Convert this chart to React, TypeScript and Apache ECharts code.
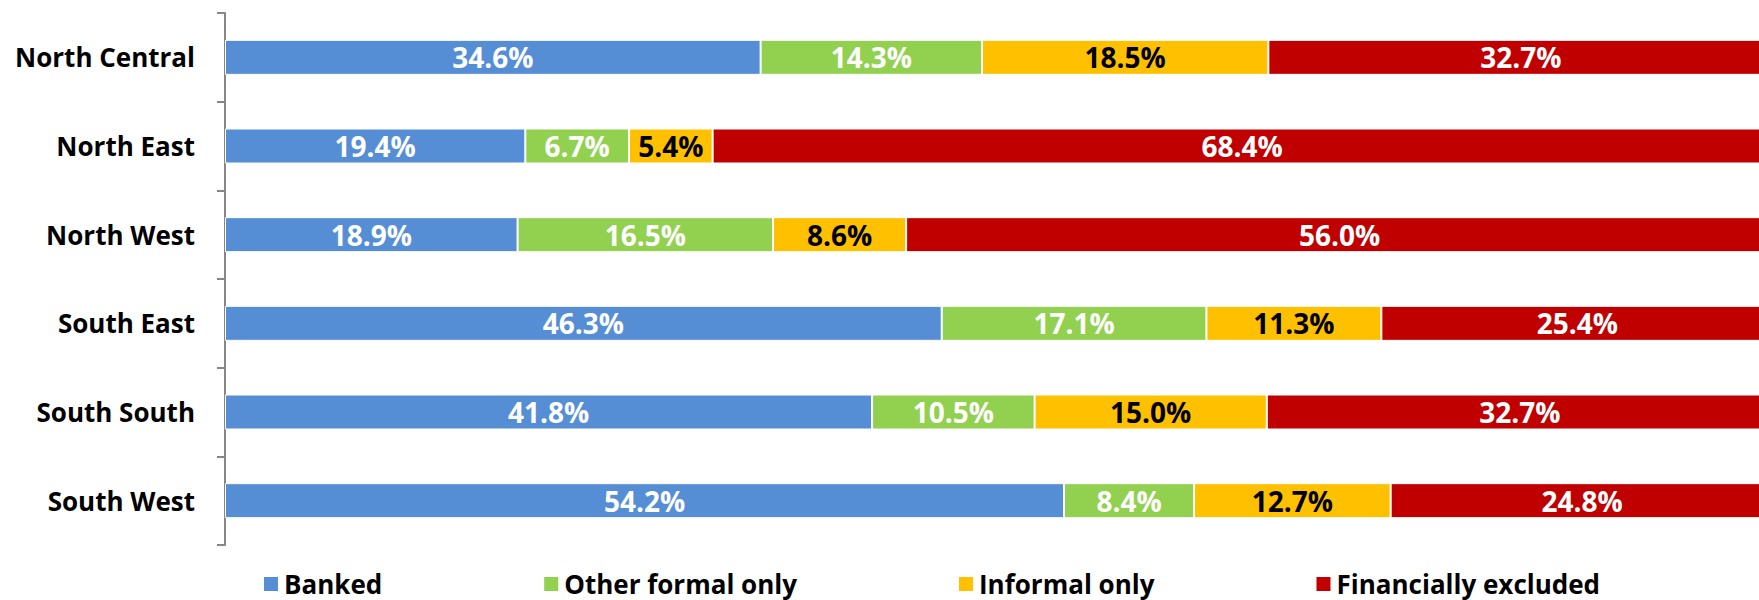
import React, { useEffect, useRef } from "react";
import * as echarts from "echarts";

const regions = ["North Central", "North East", "North West", "South East", "South South", "South West"];
const banked = [34.6, 19.4, 18.9, 46.3, 41.8, 54.2];
const otherFormal = [14.3, 6.7, 16.5, 17.1, 10.5, 8.4];
const informal = [18.5, 5.4, 8.6, 11.3, 15.0, 12.7];
const excluded = [32.7, 68.4, 56.0, 25.4, 32.7, 24.8];

const seriesNames = ["Banked", "Other formal only", "Informal only", "Financially excluded"];
const seriesColors = ["#558ED5", "#92D050", "#FFC000", "#C00000"];
const labelColors = ["#FFFFFF", "#FFFFFF", "#000000", "#FFFFFF"];

const FONT = "'Open Sans', 'Noto Sans', sans-serif";

export default function App() {
  const ref = useRef<HTMLDivElement>(null);
  useEffect(() => {
    if (!ref.current) return;
    const chart = echarts.init(ref.current, undefined, { renderer: "svg" });
    const data = [banked, otherFormal, informal, excluded];
    chart.setOption({
      animation: false,
      textStyle: { fontFamily: FONT },
      grid: { left: 225, right: 0, top: 13, height: 532, containLabel: false },
      legend: {
        data: seriesNames,
        top: 566,
        left: 257,
        itemWidth: 16,
        itemHeight: 16,
        itemGap: 160,
        icon: "rect",
        textStyle: { fontFamily: FONT, fontWeight: "bold", fontSize: 26, lineHeight: 26, color: "#000" },
      },
      xAxis: {
        type: "value",
        min: 0,
        max: 100,
        show: false,
      },
      yAxis: {
        type: "category",
        data: regions,
        inverse: true,
        axisLine: { show: true, lineStyle: { color: "#868686", width: 2 } },
        axisTick: { show: true, length: 8, lineStyle: { color: "#868686", width: 2 } },
        axisLabel: {
          margin: 30,
          fontFamily: FONT,
          fontWeight: "bold",
          fontSize: 26,
          color: "#000",
        },
        splitLine: { show: false },
      },
      series: seriesNames.map((name, i) => ({
        name,
        type: "bar",
        stack: "total",
        barWidth: 35,
        data: data[i],
        itemStyle: { color: seriesColors[i], borderColor: "#FFFFFF", borderWidth: 1 },
        label: {
          show: true,
          position: "inside",
          formatter: (p: any) => p.value.toFixed(1) + "%",
          fontFamily: FONT,
          fontWeight: "bold",
          fontSize: 28,
          color: labelColors[i],
        },
      })),
    });
    return () => chart.dispose();
  }, []);
  return (
    <div
      ref={ref}
      style={{ position: "fixed", left: 0, top: 0, width: 1773, height: 600, background: "#fff" }}
    />
  );
}
